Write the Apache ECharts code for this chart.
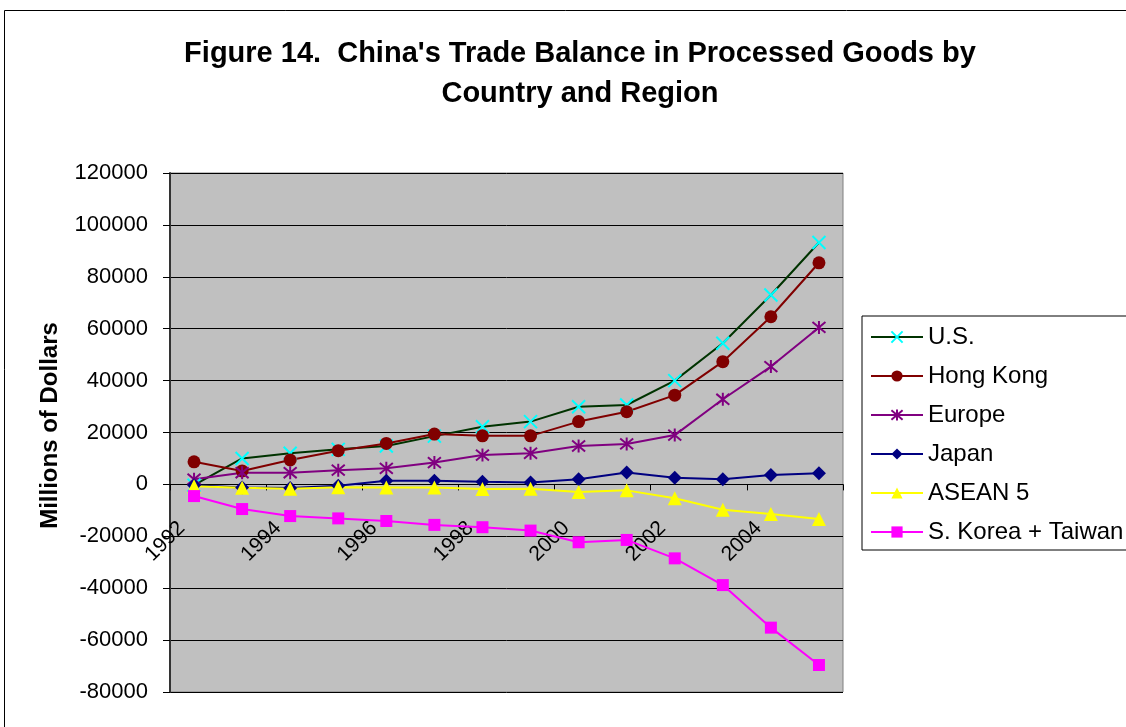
<!DOCTYPE html>
<html>
<head>
<meta charset="utf-8">
<script src="https://cdn.jsdelivr.net/npm/echarts@6/dist/echarts.min.js"></script>
<style>
  html, body { margin: 0; padding: 0; background: #fff; }
  #chart { width: 1126px; height: 727px; }
</style>
</head>
<body>
<div id="chart"></div>
<script>
const years = ['1992', '1993', '1994', '1995', '1996', '1997', '1998', '1999', '2000', '2001', '2002', '2003', '2004', '2005']

const us = [-300, 10000, 12000, 13500, 14800, 18600, 22200, 24200, 29900, 30600, 40000, 54400, 73000, 93200]
const hongKong = [8700, 5200, 9400, 13000, 15800, 19400, 18700, 18700, 24200, 28000, 34400, 47300, 64600, 85400]
const europe = [2000, 4500, 4500, 5500, 6200, 8400, 11300, 12000, 14800, 15600, 19000, 32800, 45400, 60500]
const japan = [-300, -1200, -1400, -500, 1400, 1400, 1000, 700, 2000, 4600, 2600, 2000, 3600, 4300]
const asean5 = [-700, -1300, -1700, -1100, -1200, -1200, -1800, -1700, -2900, -2300, -5300, -9800, -11400, -13300]
const koreaTaiwan = [-4500, -9500, -12200, -13100, -14100, -15600, -16500, -17800, -22300, -21400, -28500, -38800, -55200, -69600]

const xMark = 'path://M0,0 L10,10 M10,0 L0,10'
const starMark = 'path://M0,0 L10,10 M10,0 L0,10 M5,-1 L5,11'

const FONT = 'Liberation Sans, Arial, sans-serif'
const yMin = -80000
const yMax = 120000
const plotTop = 173
const plotBottom = 692

const chart = echarts.init(document.getElementById('chart'))

const makeSeries = (name, data, lineColor, markColor, symbol, size, stroked) => ({
  name,
  type: 'line',
  data,
  symbol,
  symbolSize: size,
  lineStyle: { color: lineColor, width: 2 },
  itemStyle: stroked
    ? { color: markColor, borderColor: markColor, borderWidth: 2 }
    : { color: markColor, borderWidth: 0 },
  emphasis: { disabled: true },
})

// x axis sits on the zero line, labels included
const zeroOffset = (plotBottom - plotTop) * (0 - yMin) / (yMax - yMin)

chart.setOption({
  animation: false,
  backgroundColor: '#fff',
  graphic: [
    {
      type: 'rect',
      shape: { x: 4.5, y: 10.5, width: 1200, height: 800 },
      style: { fill: 'none', stroke: '#000', lineWidth: 1 },
      z: -1,
    },
  ],
  title: {
    text: "Figure 14.  China's Trade Balance in Processed Goods by\nCountry and Region",
    left: 575,
    textAlign: 'center',
    top: 29,
    textStyle: {
      fontFamily: FONT,
      fontWeight: 'bold',
      fontSize: 29,
      lineHeight: 40,
      color: '#000',
    },
  },
  grid: {
    left: 170,
    right: 283,
    top: plotTop,
    bottom: 727 - plotBottom,
    outerBoundsMode: 'none',
    show: true,
    backgroundColor: '#c0c0c0',
    borderColor: '#808080',
    borderWidth: 1,
  },
  legend: {
    orient: 'vertical',
    left: 862,
    top: 316,
    padding: [9, 60, 6, 8],
    itemWidth: 52,
    itemHeight: 14,
    itemGap: 15,
    borderColor: '#000',
    borderWidth: 1,
    backgroundColor: '#fff',
    textStyle: {
      fontFamily: FONT,
      fontSize: 24,
      lineHeight: 24,
      color: '#000',
    },
    data: ['U.S.', 'Hong Kong', 'Europe', 'Japan', 'ASEAN 5', 'S. Korea + Taiwan'],
  },
  xAxis: {
    type: 'category',
    data: years,
    boundaryGap: true,
    offset: -zeroOffset,
    axisLine: { onZero: false, lineStyle: { color: '#000', width: 1 } },
    axisTick: { show: true, length: 6, lineStyle: { color: '#000' } },
    axisLabel: {
      interval: 1,
      rotate: 45,
      margin: 28,
      color: '#000',
      fontFamily: FONT,
      fontSize: 21,
      // trailing spaces pull the rotated text down-left of the tick, as in the original
      formatter: (v) => v + '   ',
    },
    splitLine: { show: false },
  },
  yAxis: {
    type: 'value',
    min: yMin,
    max: yMax,
    interval: 20000,
    name: 'Millions of Dollars',
    nameLocation: 'middle',
    nameGap: 108,
    nameTextStyle: {
      fontFamily: FONT,
      fontWeight: 'bold',
      fontSize: 24,
      padding: [0, 0, 0, 14],
      color: '#000',
    },
    axisLine: { show: true, lineStyle: { color: '#333', width: 2 } },
    axisTick: { show: true, length: 7, lineStyle: { color: '#000' } },
    axisLabel: {
      margin: 22,
      color: '#000',
      fontFamily: FONT,
      fontSize: 22,
      formatter: (v) => String(v),
    },
    splitLine: { show: true, lineStyle: { color: '#000', width: 1 } },
  },
  series: [
    makeSeries('U.S.', us, '#003300', '#00ffff', xMark, 13, true),
    makeSeries('Hong Kong', hongKong, '#800000', '#800000', 'circle', 13, false),
    makeSeries('Europe', europe, '#800080', '#800080', starMark, 13, true),
    makeSeries('Japan', japan, '#000080', '#000080', 'diamond', 14, false),
    makeSeries('ASEAN 5', asean5, '#ffff00', '#ffff00', 'triangle', 14, false),
    makeSeries('S. Korea + Taiwan', koreaTaiwan, '#ff00ff', '#ff00ff', 'rect', 12, false),
  ],
})
</script>
</body>
</html>
